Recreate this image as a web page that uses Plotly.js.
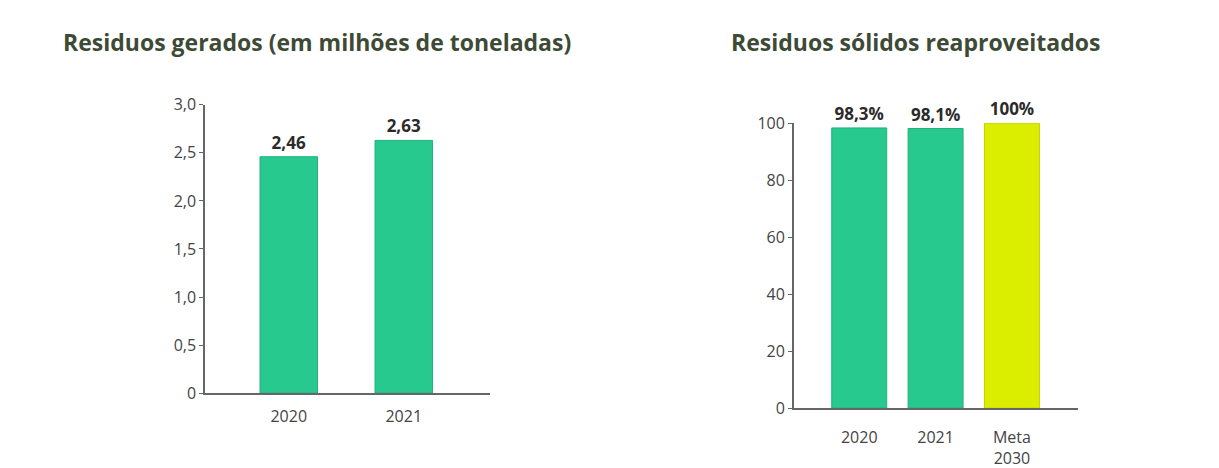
<!DOCTYPE html>
<html>
<head>
<meta charset="utf-8">
<script src="https://cdn.plot.ly/plotly-3.0.1.min.js"></script>
<style>html,body{margin:0;padding:0;background:#fff;}#chart{width:1219px;height:468px;}</style>
</head>
<body>
<div id="chart"></div>
<script>
// Left chart: waste generated (million tonnes)
const wasteYears = ["2020", "2021"];
const wasteValues = [2.46, 2.63];
const wasteLabels = ["2,46", "2,63"];
const wasteTickVals = [0, 0.5, 1.0, 1.5, 2.0, 2.5, 3.0];
const wasteTickText = ["0", "0,5", "1,0", "1,5", "2,0", "2,5", "3,0"];

// Right chart: solid waste reused (%)
const reuseCats = ["2020", "2021", "Meta<br>2030"];
const reuseValues = [98.3, 98.1, 100];
const reuseLabels = ["98,3%", "98,1%", "100%"];
const reuseTickVals = [0, 20, 40, 60, 80, 100];

const green = "#27C98F";
const yellow = "#DCEE00";
const fontFam = "'Open Sans', Lato, sans-serif";

const traces = [
  {
    type: "bar", x: wasteYears, y: wasteValues, text: wasteLabels,
    textposition: "outside", cliponaxis: false, width: 0.5,
    marker: {color: green, line: {color: "#22b07e", width: 1}},
    textfont: {family: fontFam, size: 17, color: "#2b2b2b", weight: 700},
    xaxis: "x", yaxis: "y", hoverinfo: "none"
  },
  {
    type: "bar", x: reuseCats, y: reuseValues, text: reuseLabels,
    textposition: "outside", cliponaxis: false, width: 0.72,
    marker: {color: [green, green, yellow], line: {color: ["#22b07e", "#22b07e", "#c3d000"], width: 1}},
    textfont: {family: fontFam, size: 17, color: "#2b2b2b", weight: 700},
    xaxis: "x2", yaxis: "y2", hoverinfo: "none"
  }
];

const axisCommon = {
  showline: true, linecolor: "#666", linewidth: 1.5, showgrid: false, zeroline: false,
  tickfont: {family: fontFam, size: 16, color: "#444"}
};

const layout = {
  width: 1219, height: 468,
  margin: {l: 0, r: 0, t: 0, b: 0},
  paper_bgcolor: "#fff", plot_bgcolor: "#fff",
  showlegend: false,
  font: {family: fontFam},
  xaxis: Object.assign({}, axisCommon, {
    type: "category",
    domain: [0.168, 0.402], range: [-0.73, 1.75], anchor: "y",
    ticks: "", ticklen: 0, ticklabelstandoff: 8
  }),
  yaxis: Object.assign({}, axisCommon, {
    domain: [0.160, 0.776], range: [0, 3], anchor: "x",
    tickvals: wasteTickVals, ticktext: wasteTickText,
    ticks: "outside", ticklen: 4, tickcolor: "#666", tickwidth: 1
  }),
  xaxis2: Object.assign({}, axisCommon, {
    type: "category",
    domain: [0.651, 0.884], range: [-0.86, 2.86], anchor: "y2",
    ticks: "", ticklen: 0, ticklabelstandoff: 14
  }),
  yaxis2: Object.assign({}, axisCommon, {
    domain: [0.128, 0.737], range: [0, 100], anchor: "x2",
    tickvals: reuseTickVals,
    ticks: "outside", ticklen: 4, tickcolor: "#666", tickwidth: 1
  }),
  annotations: [
    {text: "<b>Residuos gerados (em milhões de toneladas)</b>", xref: "paper", yref: "paper",
     x: 317/1219, y: 1 - 42/468, xanchor: "center", yanchor: "middle", showarrow: false,
     font: {family: fontFam, size: 23, color: "#3d4a35"}},
    {text: "<b>Residuos sólidos reaproveitados</b>", xref: "paper", yref: "paper",
     x: 915/1219, y: 1 - 42/468, xanchor: "center", yanchor: "middle", showarrow: false,
     font: {family: fontFam, size: 23, color: "#3d4a35"}}
  ]
};

Plotly.newPlot("chart", traces, layout, {displayModeBar: false, staticPlot: true});
</script>
</body>
</html>
